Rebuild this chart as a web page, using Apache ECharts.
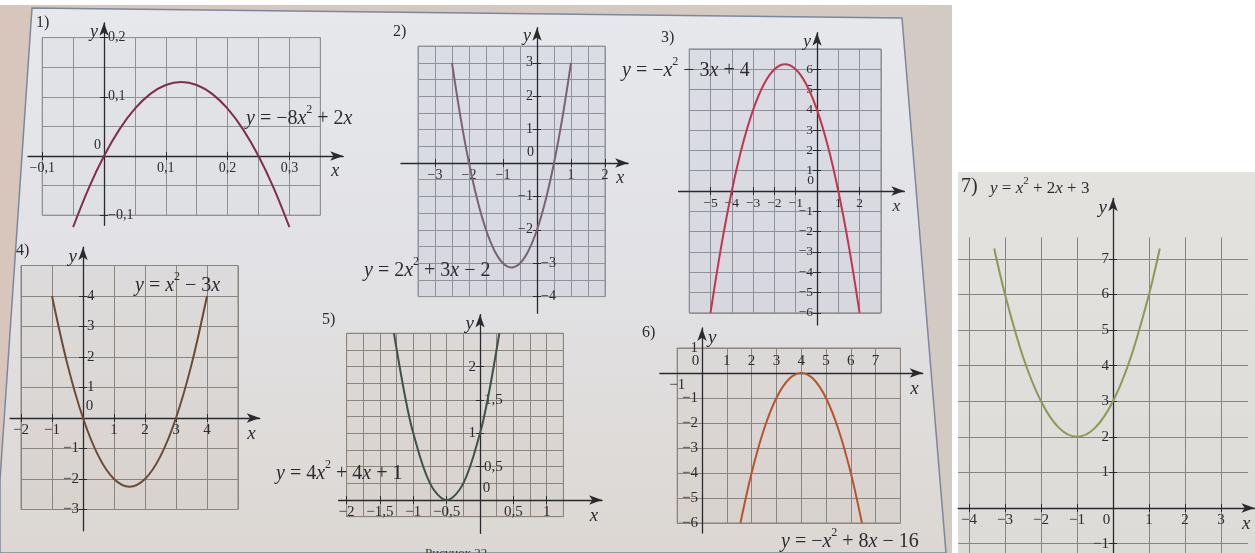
<!DOCTYPE html>
<html><head><meta charset="utf-8">
<script src="https://cdn.jsdelivr.net/npm/echarts@6/dist/echarts.min.js"></script>
<style>html,body{margin:0;padding:0;background:#fff}#c{width:1255px;height:553px}</style>
</head><body><div id="c"></div>
<script>
// ---------------- DATA ----------------
// Graph 1: y = -8x^2 + 2x
const p1X = [-0.05,-0.025,0,0.025,0.05,0.075,0.1,0.125,0.15,0.175,0.2,0.225,0.25,0.275,0.3];
const p1Y = [-0.12,-0.055,0,0.045,0.08,0.105,0.12,0.125,0.12,0.105,0.08,0.045,0,-0.055,-0.12];
const p1XTicks = [-0.1,0.1,0.2,0.3];
const p1YTicks = [0.2,0.1,-0.1];
// Graph 2: y = 2x^2 + 3x - 2
const p2X = [-2.5,-2.25,-2,-1.75,-1.5,-1.25,-1,-0.75,-0.5,-0.25,0,0.25,0.5,0.75,1];
const p2Y = [3,1.375,0,-1.125,-2,-2.625,-3,-3.125,-3,-2.625,-2,-1.125,0,1.375,3];
const p2XTicks = [-3,-2,-1,1,2];
const p2YLeft = [3,2,1,-1,-2];
const p2YRight = [-3,-4];
// Graph 3: y = -x^2 - 3x + 4
const p3X = [-5,-4.5,-4,-3.5,-3,-2.5,-2,-1.5,-1,-0.5,0,0.5,1,1.5,2];
const p3Y = [-6,-2.75,0,2.25,4,5.25,6,6.25,6,5.25,4,2.25,0,-2.75,-6];
const p3XTicks = [-5,-4,-3,-2,-1,1,2];
const p3YTicks = [6,5,4,3,2,1,-1,-2,-3,-4,-5,-6];
// Graph 4: y = x^2 - 3x
const p4X = [-1,-0.5,0,0.5,1,1.5,2,2.5,3,3.5,4];
const p4Y = [4,1.75,0,-1.25,-2,-2.25,-2,-1.25,0,1.75,4];
const p4XTicks = [-2,-1,1,2,3,4];
const p4YLeft = [-1,-2,-3];
const p4YRight = [4,3,2,1];
// Graph 5: y = 4x^2 + 4x + 1
const p5X = [-1.29,-1.125,-1,-0.75,-0.5,-0.25,0,0.125,0.29];
const p5Y = [2.5,1.56,1,0.25,0,0.25,1,1.56,2.5];
const p5XTicks = [-2,-1.5,-1,-0.5,0.5,1];
const p5YLeft = [2,1];
const p5YRight = [1.5,0.5];
// Graph 6: y = -x^2 + 8x - 16
const p6X = [1.55,2,2.5,3,3.5,4,4.5,5,5.5,6,6.45];
const p6Y = [-6,-4,-2.25,-1,-0.25,0,-0.25,-1,-2.25,-4,-6];
const p6XAbove = [1,2,3,4,5,6,7];
const p6XBelow = [-1];
const p6YLeft = [1,-1,-2,-3,-4,-5,-6];
// Graph 7: y = x^2 + 2x + 3
const p7X = [-3.3,-3,-2.5,-2,-1.5,-1,-0.5,0,0.5,1,1.3];
const p7Y = [7.29,6,4.25,3,2.25,2,2.25,3,4.25,6,7.29];
const p7XTicks = [-4,-3,-2,-1,1,2,3];
const p7YTicks = [7,6,5,4,3,2,1,-1];

const numbers = ['1)','2)','3)','4)','5)','6)','7)'];
const equations = [
  '{i|y} = −8{i|x}{s|2} + 2{i|x}',
  '{i|y} = 2{i|x}{s|2} + 3{i|x} − 2',
  '{i|y} = −{i|x}{s|2} − 3{i|x} + 4',
  '{i|y} = {i|x}{s|2} − 3{i|x}',
  '{i|y} = 4{i|x}{s|2} + 4{i|x} + 1',
  '{i|y} = −{i|x}{s|2} + 8{i|x} − 16',
  '{i|y} = {i|x}{s|2} + 2{i|x} + 3'
];
const caption = 'Рисунок 22';

const panels = [
  {x:p1X, y:p1Y, xTicks:p1XTicks, xBelow:p1XTicks, xAbove:[], yTicks:p1YTicks, yLeft:[], yRight:p1YTicks, origin:'ul'},
  {x:p2X, y:p2Y, xTicks:p2XTicks, xBelow:p2XTicks, xAbove:[], yTicks:p2YLeft.concat(p2YRight), yLeft:p2YLeft, yRight:p2YRight, origin:'ul'},
  {x:p3X, y:p3Y, xTicks:p3XTicks, xBelow:p3XTicks, xAbove:[], yTicks:p3YTicks, yLeft:p3YTicks, yRight:[], origin:'ul'},
  {x:p4X, y:p4Y, xTicks:p4XTicks, xBelow:p4XTicks, xAbove:[], yTicks:p4YLeft.concat(p4YRight), yLeft:p4YLeft, yRight:p4YRight, origin:'ur'},
  {x:p5X, y:p5Y, xTicks:p5XTicks, xBelow:p5XTicks, xAbove:[], yTicks:p5YLeft.concat(p5YRight), yLeft:p5YLeft, yRight:p5YRight, origin:'ur'},
  {x:p6X, y:p6Y, xTicks:[], xBelow:p6XBelow, xAbove:p6XAbove, yTicks:[], yLeft:p6YLeft, yRight:[], origin:'ul'},
  {x:p7X, y:p7Y, xTicks:p7XTicks, xBelow:p7XTicks, xAbove:[], yTicks:p7YTicks, yLeft:p7YTicks, yRight:[], origin:'dl'}
];

// ---------------- LAYOUT / STYLE ----------------
const FONT = '"Liberation Serif", "DejaVu Serif", serif';
const AXC = '#2a292e';
const TXT = '#2d2b30';
const layout = [
  {o:[104,156], k:[618,592], boxes:[{x:[-0.1,0.35,0.05], y:[-0.1,0.2,0.05], border:true}], ax:[-0.123,0.387], ay:[-0.117,0.225],
   color:'#7d2f4c', grid:'#8f9197', bg:'rgba(200,205,215,0.15)', fs:14, num:[36,15], eq:[246,104], eqFs:20, yn:'l'},
  {o:[537,163], k:[34,33.4], boxes:[{x:[-3.5,2,0.5], y:[-4,3.5,0.5], border:true}], ax:[-4.0,2.68], ay:[-4.5,4.05],
   color:'#7b6272', grid:'#8e929b', bg:'rgba(170,180,200,0.18)', fs:14, num:[393,24], eq:[364,256], eqFs:20, yn:'l'},
  {o:[817,191], k:[21.3,20.3], boxes:[{x:[-6,3,1], y:[-6,7,1], border:true}], ax:[-6.5,4.1], ay:[-6.6,7.8],
   color:'#c3344f', grid:'#8d9199', bg:'rgba(170,180,200,0.18)', fs:13.5, num:[661,30], eq:[622,56], eqFs:20, yn:'l'},
  {o:[83,418], k:[31,30.5], boxes:[{x:[-2,5,1], y:[-3,5,1], border:true}], ax:[-2.35,5.7], ay:[-3.7,5.6],
   color:'#6b4a36', grid:'#8b857f', bg:'rgba(190,175,160,0.12)', fs:15, num:[16,243], eq:[135,271], eqFs:20, yn:'l'},
  {o:[480,500], k:[66.7,66.7], boxes:[{x:[-2,1.25,0.25], y:[-0.25,2.5,0.25], border:true}], ax:[-2.12,1.83], ay:[-0.5,2.78],
   color:'#3e5249', grid:'#8b857e', bg:'rgba(190,175,160,0.12)', fs:15, num:[322,312], eq:[276,459], eqFs:20, yn:'l'},
  {o:[702,373], k:[24.8,25], boxes:[{x:[-1,8,1], y:[-6,1,1], border:true}], ax:[-1.7,8.9], ay:[-6.4,1.8],
   color:'#b4552e', grid:'#8a8580', bg:'rgba(190,175,160,0.12)', fs:15, num:[642,325], eq:[781,527], eqFs:20, yn:'r'},
  {o:[1113,508], k:[36,35.6], boxes:[{x:[-4,3,1], y:[-1.3,7.6,0], border:false}, {x:[-4.3,3.75,0], y:[-1,7,1], border:false}], ax:[-4.3,3.93], ay:[-1.3,8.7],
   color:'#8a9a55', grid:'#86857f', bg:'transparent', fs:15, num:[961,177], eq:[990,176], eqFs:17, yn:'l'}
];

function fmt(v){ return String(v).replace('.', ',').replace('-', '\u2212'); }
function labelFmt(v){ return v === 0 ? '{o|0}' : fmt(v); }

const grids = [], xAxes = [], yAxes = [], series = [], titles = [];
const hidden = (gi, min, max) => ({type:'value', gridIndex:gi, min:min, max:max, show:false});
function addGrid(rect, xa, ya) {
  const gi = grids.length;
  grids.push(Object.assign({show:false, containLabel:false, outerBoundsMode:'none'}, rect));
  xa.gridIndex = gi; ya.gridIndex = gi;
  xAxes.push(xa); yAxes.push(ya);
  return {gi:gi, xi:xAxes.length - 1, yi:yAxes.length - 1};
}

panels.forEach((P, i) => {
  const L = layout[i];
  const px = v => L.o[0] + v * L.k[0];
  const py = v => L.o[1] - v * L.k[1];
  let curveAxes = null;
  // grid-cell layers
  L.boxes.forEach(B => {
    const r = addGrid({left:px(B.x[0]), top:py(B.y[1]), width:px(B.x[1]) - px(B.x[0]), height:py(B.y[0]) - py(B.y[1]),
        show:B.border, borderColor:L.grid, borderWidth:1, backgroundColor:B.border ? L.bg : 'transparent'},
      {type:'value', min:B.x[0], max:B.x[1], interval:B.x[2] || undefined, axisLine:{show:false}, axisTick:{show:false}, axisLabel:{show:false},
       splitLine:{show:!!B.x[2], lineStyle:{color:L.grid, width:1}}},
      {type:'value', min:B.y[0], max:B.y[1], interval:B.y[2] || undefined, axisLine:{show:false}, axisTick:{show:false}, axisLabel:{show:false},
       splitLine:{show:!!B.y[2], lineStyle:{color:L.grid, width:1}}});
    if (!curveAxes) curveAxes = r;
  });
  // axis layers (each axis sits on an edge of its own grid, placed at the origin)
  const X0 = px(0), Y0 = py(0);
  const xl = px(L.ax[0]), xr = px(L.ax[1]), yt = py(L.ay[1]), yb = py(L.ay[0]);
  const lbl = {fontFamily:FONT, fontSize:L.fs, color:TXT, formatter:labelFmt};
  const oPad = 13;
  const richL = {o:{padding:[0, oPad, 0, 0]}};
  const richR = {o:{padding:[0, 0, 0, oPad]}};
  const below = P.xBelow.slice(); const above = P.xAbove.slice();
  let richB = richL, richT = richL;
  if (P.origin === 'ul') { above.push(0); richT = richL; }
  if (P.origin === 'ur') { above.push(0); richT = richR; }
  if (P.origin === 'dl') { below.push(0); richB = richL; }
  const nameStyle = {fontFamily:FONT, fontStyle:'italic', fontSize:L.fs + 4, color:TXT};
  const tick = vals => ({show:vals.length > 0, customValues:vals, length:4, lineStyle:{color:AXC, width:1}});
  // x axis, labels below
  addGrid({left:xl, top:yt, width:xr - xl, height:Y0 - yt},
    {type:'value', position:'bottom', min:L.ax[0], max:L.ax[1], splitLine:{show:false},
     axisLine:{show:true, onZero:false, symbol:['none','arrow'], symbolSize:[7,13], lineStyle:{color:AXC, width:1.3}},
     axisTick:tick(P.xTicks),
     axisLabel:Object.assign({}, lbl, {show:true, customValues:below, margin:5, rich:richB}),
     name:'x', nameLocation:'end', nameGap:0,
     nameTextStyle:Object.assign({}, nameStyle, {align:'right', verticalAlign:'top', padding:[6, 4, 0, 0]})},
    hidden(0, 0, L.ay[1]));
  // x axis, labels above
  addGrid({left:xl, top:Y0, width:xr - xl, height:yb - Y0},
    {type:'value', position:'top', min:L.ax[0], max:L.ax[1], splitLine:{show:false},
     axisLine:{show:false, onZero:false}, axisTick:tick(P.xTicks),
     axisLabel:Object.assign({}, lbl, {show:true, customValues:above, margin:4, rich:richT})},
    hidden(0, L.ay[0], 0));
  // y axis, labels left
  const yNamePad = L.yn === 'r' ? {align:'left', verticalAlign:'top', padding:[0, 0, 0, 6]} : {align:'right', verticalAlign:'top', padding:[0, 6, 0, 0]};
  addGrid({left:X0, top:yt, width:xr - X0, height:yb - yt},
    hidden(0, 0, L.ax[1]),
    {type:'value', position:'left', min:L.ay[0], max:L.ay[1], splitLine:{show:false},
     axisLine:{show:true, onZero:false, symbol:['none','arrow'], symbolSize:[7,13], lineStyle:{color:AXC, width:1.3}},
     axisTick:tick(P.yTicks),
     axisLabel:Object.assign({}, lbl, {show:true, customValues:P.yLeft, margin:4}),
     name:'y', nameLocation:'end', nameGap:0,
     nameTextStyle:Object.assign({}, nameStyle, yNamePad)});
  // y axis, labels right
  addGrid({left:xl, top:yt, width:X0 - xl, height:yb - yt},
    hidden(0, L.ax[0], 0),
    {type:'value', position:'right', min:L.ay[0], max:L.ay[1], splitLine:{show:false},
     axisLine:{show:false, onZero:false}, axisTick:tick(P.yTicks),
     axisLabel:Object.assign({}, lbl, {show:true, customValues:P.yRight, margin:4})});
  // curve
  series.push({type:'line', xAxisIndex:curveAxes.xi, yAxisIndex:curveAxes.yi, data:P.x.map((v, j) => [v, P.y[j]]),
    smooth:0.35, showSymbol:false, clip:false, silent:true, lineStyle:{color:L.color, width:2}, z:5});
  // number + equation
  titles.push({text:numbers[i], left:L.num[0], top:L.num[1], padding:0,
    textStyle:{fontFamily:FONT, fontSize:i === 6 ? 20 : 16, fontWeight:'normal', color:TXT}});
  titles.push({text:equations[i], left:L.eq[0], top:L.eq[1], padding:0,
    textStyle:{fontFamily:FONT, fontSize:L.eqFs, fontWeight:'normal', color:TXT, lineHeight:L.eqFs * 1.5,
      rich:{i:{fontFamily:FONT, fontStyle:'italic', fontSize:L.eqFs, color:TXT, lineHeight:L.eqFs * 1.5},
            s:{fontFamily:FONT, fontSize:Math.round(L.eqFs * 0.62), color:TXT, verticalAlign:'top', lineHeight:L.eqFs * 1.5}}}});
});

const chart = echarts.init(document.getElementById('c'), null, {renderer:'canvas'});
chart.setOption({
  animation:false,
  backgroundColor:'#ffffff',
  graphic:{elements:[
    {type:'rect', z:-20, shape:{x:0, y:5, width:952, height:548},
     style:{fill:{type:'linear', x:0, y:0, x2:1, y2:0, colorStops:[{offset:0, color:'#d8c6bc'}, {offset:1, color:'#d2cbc4'}]}}},
    {type:'polygon', z:-19, shape:{points:[[32,8],[902,18],[946,553],[0,553],[0,480]]},
     style:{fill:{type:'linear', x:0, y:0, x2:0, y2:1, colorStops:[{offset:0, color:'#e6e8ec'}, {offset:0.45, color:'#e2e2e6'}, {offset:1, color:'#dcd7d2'}]},
            stroke:'#7d879c', lineWidth:1.5}},
    {type:'rect', z:-20, shape:{x:958, y:172, width:297, height:381},
     style:{fill:{type:'linear', x:0, y:0, x2:0, y2:1, colorStops:[{offset:0, color:'#e3e2df'}, {offset:1, color:'#dcdbd8'}]}}},
    {type:'text', z:10, left:425, top:547, style:{text:caption, font:'13px "Liberation Serif", serif', fill:'#3a383c'}}
  ]},
  title:titles,
  grid:grids,
  xAxis:xAxes,
  yAxis:yAxes,
  series:series
});
</script>
</body></html>
